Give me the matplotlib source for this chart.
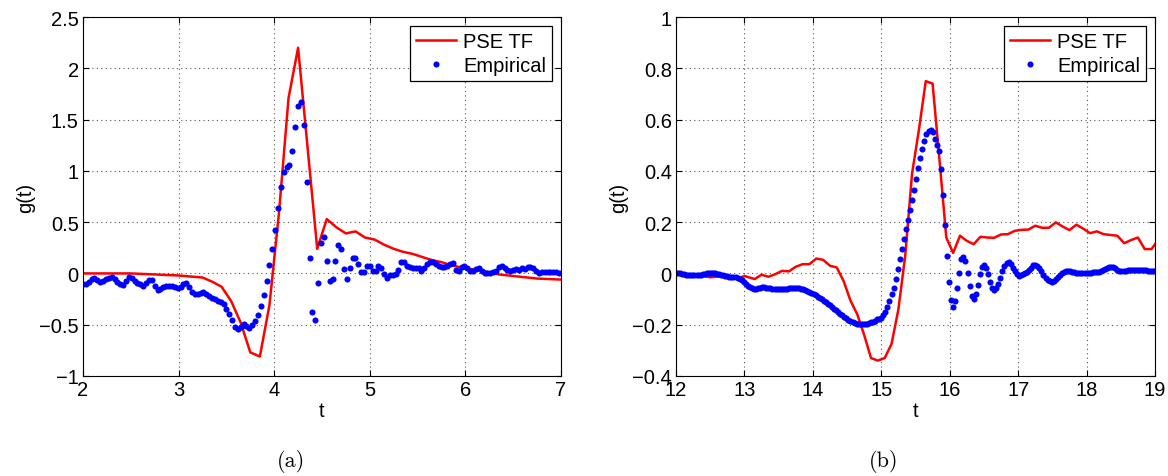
import numpy as np
import matplotlib
matplotlib.use("Agg")
import matplotlib.pyplot as plt
from matplotlib.ticker import FuncFormatter

plt.rcParams['font.family'] = ['Liberation Sans', 'DejaVu Sans']

# (a) PSE TF curve
t_pse_a = [2.0, 2.5, 3.0, 3.25, 3.35, 3.45, 3.55, 3.65, 3.75, 3.85, 3.95, 4.05, 4.15, 4.25,
           4.45, 4.55, 4.65, 4.75, 4.85, 4.95, 5.05, 5.15, 5.25, 5.35, 5.45, 5.55, 5.65,
           5.75, 5.85, 6.0, 6.15, 6.35, 6.55, 6.75, 7.0]
g_pse_a = [0.0, 0.0, -0.02, -0.04, -0.08, -0.13, -0.27, -0.48, -0.77, -0.81, -0.31, 0.59, 1.71, 2.2,
           0.24, 0.53, 0.45, 0.39, 0.41, 0.35, 0.33, 0.28, 0.24, 0.21, 0.19, 0.16, 0.13,
           0.11, 0.08, 0.05, 0.03, -0.01, -0.03, -0.05, -0.06]

# (a) empirical, sampled every 0.03 from t = 2
t0_a, dt = 2.0, 0.03
g_emp_a = [
    -0.10, -0.10, -0.08, -0.05, -0.04, -0.06, -0.08, -0.07, -0.05, -0.04,
    -0.03, -0.05, -0.08, -0.10, -0.11, -0.07, -0.03, -0.04, -0.07, -0.09,
    -0.10, -0.12, -0.09, -0.06, -0.06, -0.12, -0.16, -0.15, -0.13, -0.12,
    -0.12, -0.12, -0.13, -0.14, -0.13, -0.10, -0.09, -0.13, -0.18, -0.20,
    -0.20, -0.19, -0.185, -0.20, -0.22, -0.235, -0.25, -0.27, -0.28, -0.30,
    -0.35, -0.40, -0.45, -0.52, -0.54, -0.52, -0.49, -0.51, -0.53, -0.50,
    -0.46, -0.41, -0.32, -0.21, -0.07, 0.085, 0.24, 0.42, 0.64, 0.84,
    0.99, 1.04, 1.06, 1.19, 1.43, 1.63, 1.67, 1.45, 0.89, 0.15,
    -0.38, -0.45, -0.09, 0.30, 0.36, 0.12, -0.07, -0.055, 0.12, 0.28,
    0.24, 0.04, -0.05, 0.055, 0.15, 0.15, 0.09, 0.01, 0.01, 0.07,
    0.075, 0.02, 0.025, 0.075, 0.05, -0.01, -0.04, -0.02, -0.015, -0.01,
    0.035, 0.11, 0.11, 0.075, 0.06, 0.05, 0.055, 0.05, 0.025, 0.05,
    0.09, 0.11, 0.11, 0.09, 0.07, 0.06, 0.06, 0.075, 0.09, 0.10,
    0.035, 0.025, 0.06, 0.07, 0.055, 0.025, 0.025, 0.04, 0.055, 0.025,
    0.003, 0.003, 0.003, 0.01, 0.025, 0.06, 0.07, 0.05, 0.035, 0.025,
    0.035, 0.04, 0.035, 0.05, 0.04, 0.06, 0.06, 0.05, 0.025, 0.003,
    0.015, 0.015, 0.015, 0.01, 0.01, 0.01, 0.003,
]

# (b) PSE TF curve
t_pse_b = [12.0, 12.3, 12.5, 12.7, 12.9, 13.0, 13.15,
           13.25, 13.35, 13.45, 13.55, 13.65, 13.75, 13.85, 13.95,
           14.05, 14.15, 14.25, 14.35, 14.45, 14.55, 14.65, 14.75, 14.85, 14.95,
           15.05, 15.15, 15.25, 15.35, 15.45, 15.55, 15.65, 15.75, 15.85, 15.95,
           16.05, 16.15, 16.25, 16.35, 16.45, 16.55, 16.65, 16.75, 16.85, 16.95,
           17.05, 17.15, 17.25, 17.35, 17.45, 17.55, 17.65, 17.75, 17.85, 17.95,
           18.05, 18.15, 18.25, 18.35, 18.45, 18.55, 18.65, 18.75, 18.85, 18.95, 19.0]
g_pse_b = [0.0, -0.005, -0.015, -0.01, -0.02, -0.01, -0.022,
           -0.005, -0.013, -0.003, 0.01, 0.008, 0.026, 0.036, 0.036,
           0.058, 0.053, 0.03, 0.023, -0.03, -0.106, -0.16, -0.24, -0.33, -0.34,
           -0.33, -0.275, -0.14, 0.07, 0.39, 0.56, 0.75, 0.74, 0.445, 0.14,
           0.08, 0.147, 0.127, 0.114, 0.143, 0.14, 0.139, 0.152, 0.153, 0.166,
           0.17, 0.171, 0.186, 0.178, 0.178, 0.199, 0.183, 0.169, 0.19, 0.175,
           0.157, 0.164, 0.153, 0.15, 0.147, 0.118, 0.13, 0.14, 0.095, 0.095, 0.114]

# (b) empirical, sampled every 0.03 from t = 12
t0_b = 12.0
g_emp_b = [
    0.0, 0.0, 0.0, -0.002, -0.004, -0.005, -0.006, -0.007, -0.008, -0.008,
    -0.008, -0.007, -0.005, -0.003, -0.001, 0.001, 0.003, 0.003, 0.002, 0.0,
    -0.002, -0.004, -0.006, -0.008, -0.010, -0.011, -0.012, -0.013, -0.014, -0.015,
    -0.017, -0.021, -0.027, -0.034, -0.041, -0.048, -0.054, -0.058, -0.060, -0.059,
    -0.057, -0.055, -0.054, -0.054, -0.055, -0.056, -0.058, -0.060, -0.061, -0.062,
    -0.062, -0.062, -0.061, -0.060, -0.059, -0.058, -0.057, -0.056, -0.056, -0.056,
    -0.057, -0.059, -0.062, -0.066, -0.070, -0.074, -0.078, -0.082, -0.086, -0.090,
    -0.095, -0.100, -0.106, -0.112, -0.118, -0.124, -0.130, -0.137, -0.144, -0.151,
    -0.157, -0.163, -0.169, -0.175, -0.181, -0.186, -0.190, -0.194, -0.196, -0.197,
    -0.198, -0.198, -0.197, -0.196, -0.194, -0.191, -0.188, -0.184, -0.179, -0.177,
    -0.175, -0.163, -0.149, -0.129, -0.106, -0.080, -0.055, -0.022, 0.017, 0.056,
    0.095, 0.134, 0.173, 0.209, 0.248, 0.287, 0.326, 0.370, 0.413, 0.450,
    0.487, 0.517, 0.543, 0.556, 0.560, 0.552, 0.523, 0.500, 0.478, 0.406,
    0.306, 0.188, 0.068, -0.035, -0.104, -0.130, -0.109, -0.058, 0.001, 0.056,
    0.066, 0.047, 0.001, -0.048, -0.087, -0.100, -0.080, -0.045, -0.004, 0.027,
    0.034, 0.022, -0.004, -0.035, -0.058, -0.064, -0.058, -0.042, -0.016, 0.010,
    0.030, 0.042, 0.043, 0.035, 0.022, 0.008, -0.003, -0.009, -0.008, -0.004,
    0.000, 0.006, 0.014, 0.023, 0.031, 0.034, 0.030, 0.020, 0.008, -0.005,
    -0.016, -0.025, -0.031, -0.032, -0.028, -0.020, -0.012, -0.005, 0.001, 0.006,
    0.009, 0.010, 0.009, 0.007, 0.005, 0.003, 0.001, 0.000, 0.000, 0.001,
    0.001, 0.002, 0.003, 0.004, 0.005, 0.006, 0.006, 0.008, 0.012, 0.017,
    0.022, 0.026, 0.027, 0.025, 0.020, 0.015, 0.011, 0.009, 0.009, 0.010,
    0.012, 0.013, 0.014, 0.015, 0.015, 0.014, 0.014, 0.013, 0.013, 0.012,
    0.011, 0.010, 0.010, 0.010,
]

t_emp_a = t0_a + dt * np.arange(len(g_emp_a))
t_emp_b = t0_b + dt * np.arange(len(g_emp_b))

fig = plt.figure(figsize=(11.68, 4.77), dpi=100)
W, H = 1168, 477
ax_a = fig.add_axes([83 / W, 100 / H, 478 / W, 359 / H])
ax_b = fig.add_axes([676 / W, 100 / H, 479 / W, 359 / H])

fmt = FuncFormatter(lambda v, p: ('%g' % v).replace('-', '\u2212'))


def style(ax, xlim, ylim, yticks):
    ax.set_xlim(*xlim)
    ax.set_ylim(*ylim)
    ax.set_xticks(np.arange(xlim[0], xlim[1] + 0.5, 1))
    ax.set_yticks(yticks)
    ax.yaxis.set_major_formatter(fmt)
    ax.grid(True, linestyle=(0, (1, 3)), color='#555555', linewidth=0.8)
    ax.tick_params(direction='in', top=True, right=True, labelsize=14.5, length=4, width=0.8, pad=3)
    for s in ax.spines.values():
        s.set_linewidth(0.8)
    ax.set_xlabel('t', fontsize=14.5, labelpad=1)
    ax.set_ylabel('g(t)', fontsize=14.5, labelpad=3)
    leg = ax.legend(loc='upper right', fontsize=14.5, fancybox=False, framealpha=1,
                    edgecolor='black', borderpad=0.3, handlelength=2.0,
                    handletextpad=0.35, labelspacing=0.25, borderaxespad=0.45)
    leg.get_frame().set_linewidth(0.9)


ax_a.plot(t_pse_a, g_pse_a, color='red', linewidth=1.8, label='PSE TF')
ax_a.plot(t_emp_a, g_emp_a, 'o', color='blue', markersize=4.4, markeredgewidth=0, label='Empirical')
style(ax_a, (2, 7), (-1, 2.5), np.arange(-1, 2.51, 0.5))

ax_b.plot(t_pse_b, g_pse_b, color='red', linewidth=1.8, label='PSE TF')
ax_b.plot(t_emp_b, g_emp_b, 'o', color='blue', markersize=4.4, markeredgewidth=0, label='Empirical')
style(ax_b, (12, 19), (-0.4, 1.0), np.round(np.arange(-0.4, 1.01, 0.2), 1))

fig.text(291 / W, 1 - 462 / H, '(a)', fontsize=16, family='cmr10', ha='center', va='center')
fig.text(884 / W, 1 - 462 / H, '(b)', fontsize=16, family='cmr10', ha='center', va='center')

fig.savefig('out.png', dpi=100)
